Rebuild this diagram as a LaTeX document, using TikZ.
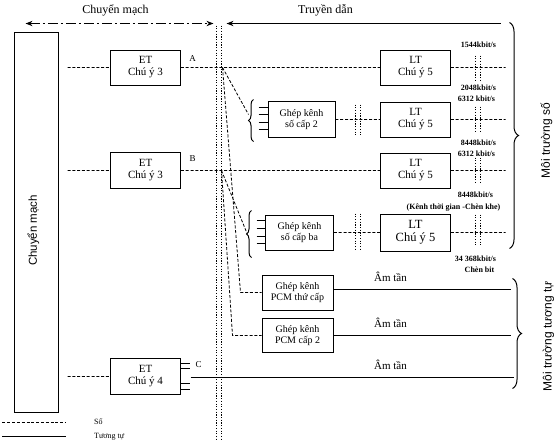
\documentclass[tikz,border=0pt]{standalone}
\usepackage{fontspec}
\setmainfont{Liberation Serif}
\setsansfont{Liberation Sans}
\usetikzlibrary{arrows.meta, decorations.pathreplacing, positioning}

\tikzset{
  box/.style={draw, line width=0.8pt, minimum width=70pt, minimum height=35pt, inner sep=1pt, align=center, font=\fontsize{11}{12}\selectfont},
  mux/.style={draw, line width=0.8pt, minimum width=68pt, minimum height=35pt, inner sep=1pt, align=center, font=\fontsize{10}{11.5}\selectfont},
  so/.style={line width=0.8pt, dash pattern=on 3pt off 1.8pt},
  tuongtu/.style={line width=0.9pt},
  cut/.style={line width=0.7pt, dash pattern=on 1.2pt off 1.5pt},
  rate/.style={font=\bfseries\fontsize{8}{9}\selectfont},
  am/.style={font=\fontsize{11}{12}\selectfont},
  brc/.style={decorate, decoration={brace, amplitude=7pt}, line width=1pt}
}

\begin{document}
\begin{tikzpicture}[x=1pt, y=-1pt, line width=0.7pt]
    \useasboundingbox (-0.5,-0.5) rectangle (558.5,444.5);

    % header arrows
    \node (hsw) at (115,10) {\fontsize{12}{13}\selectfont Chuyển mạch};
    \node (htr) at (325,10) {\fontsize{12}{13}\selectfont Truyền dẫn};
    \coordinate (sw1) at (25,23);
    \coordinate (sw2) at (213,23);
    \coordinate (tr1) at (226,23);
    \coordinate (tr2) at (500,23);
    \draw[{Stealth[length=7pt]}-{Stealth[length=7pt]}, line width=0.9pt, dash pattern=on 10pt off 3pt on 2pt off 3pt] (sw1) -- (sw2);
    \draw[{Stealth[length=7pt]}-, line width=0.9pt] (tr1) -- (tr2);

    % boundary
    \coordinate (b1t) at (216,25);
    \coordinate (b1b) at (216,440);
    \coordinate (b2t) at (221,25);
    \coordinate (b2b) at (221,440);
    \draw[cut] (b1t) -- (b1b) (b2t) -- (b2b);

    % switch
    \node[draw, line width=0.8pt, minimum width=44pt, minimum height=380pt] (sw) at (36,222) {};
    \node[rotate=90, font=\sffamily\fontsize{11.5}{12}\selectfont] (swt) at (33,230) {Chuyển mạch};

    % exchange terminals
    \node[box] (etA) at (145,67) {ET\\Chú ý 3};
    \node[box, minimum height=36pt] (etB) at (145,170) {ET\\Chú ý 3};
    \node[box, minimum height=36pt] (etC) at (145,376) {ET\\Chú ý 4};
    \node (lA) at (192,58) {\small A};
    \node (lB) at (192,158) {\small B};
    \node (lC) at (198,364) {\small C};

    % line terminals
    \node[box] (lt1) at (415,67) {LT\\Chú ý 5};
    \node[box] (lt2) at (415,119) {LT\\Chú ý 5};
    \node[box] (lt3) at (415,170) {LT\\Chú ý 5};
    \node[box, minimum height=37pt, font=\fontsize{12.5}{13.5}\selectfont] (lt4) at (415,232) {LT\\Chú ý 5};

    % multiplexers
    \node[mux, minimum width=67pt, minimum height=36pt] (mx2) at (301,119) {Ghép kênh\\số cấp 2};
    \node[mux] (mx3) at (299,232) {Ghép kênh\\số cấp ba};
    \node[mux, minimum width=71pt] (pcm1) at (297,292) {Ghép kênh\\PCM thứ cấp};
    \node[mux, minimum width=71pt, minimum height=34pt] (pcm2) at (297,335) {Ghép kênh\\PCM cấp 2};

    % inputs of the multiplexers
    \foreach \y in {107,114,122,129} \draw (258,\y) -- (mx2.west |- 0,\y);
    \foreach \y in {220,228,236,243} \draw (256,\y) -- (mx3.west |- 0,\y);
    \foreach \y in {363,368,383,389} \draw (etC.east |- 0,\y) -- ++(9,0);
    \coordinate (m2b1) at (253,141);
    \coordinate (m2b2) at (253,99);
    \coordinate (m3b1) at (251,257);
    \coordinate (m3b2) at (251,210);
    \draw[brc, decoration={amplitude=5pt}] (m2b1) -- (m2b2);
    \draw[brc, decoration={amplitude=5pt}] (m3b1) -- (m3b2);

    % digital paths
    \coordinate (inA) at (67,67);
    \coordinate (inB) at (67,170);
    \coordinate (inC) at (67,376);
    \coordinate (jA) at (222,67);
    \coordinate (jB) at (221,170);
    \coordinate (kA) at (240,292);
    \coordinate (kB) at (232,335);
    \coordinate (m2in) at (248,114);
    \coordinate (m3in) at (247,234);
    \coordinate (o1) at (505,67);
    \coordinate (o2) at (505,119);
    \coordinate (o3) at (505,170);
    \coordinate (o4) at (505,232);
    \draw[so]
    (inA) -- (etA) (etA) -- (lt1) (lt1) -- (o1)
    (inB) -- (etB) (etB) -- (lt3) (lt3) -- (o3)
    (inC) -- (etC)
    (mx2) -- (lt2) (lt2) -- (o2)
    (mx3) -- (lt4) (lt4) -- (o4)
    (jA) -- (m2in)
    (jA) -- (kA) -- (pcm1)
    (jB) -- (m3in)
    (jB) -- (kB) -- (pcm2);

    % analog paths
    \coordinate (cC) at (190,377);
    \coordinate (a1) at (510,289);
    \coordinate (a2) at (510,335);
    \coordinate (a3) at (513,377);
    \draw[tuongtu] (pcm1.east |- a1) -- (a1) (pcm2) -- (a2) (cC) -- (a3);
    \node[am] (am1) at (390,276) {Âm tần};
    \node[am] (am2) at (390,322) {Âm tần};
    \node[am] (am3) at (390,364) {Âm tần};

    % cut marks
    \foreach \x in {475,480} {
      \draw[cut] (\x,55) -- (\x,80);
      \draw[cut] (\x,106) -- (\x,132);
      \draw[cut] (\x,157) -- (\x,183);
      \draw[cut] (\x,214) -- (\x,246);
    }
    \foreach \x in {355,360} {
      \draw[cut] (\x,104) -- (\x,134);
      \draw[cut] (\x,213) -- (\x,249);
    }

    % rates
    \node[rate] (r1) at (478,44) {1544kbit/s};
    \node[rate] (r2) at (478,87) {2048kbit/s};
    \node[rate] (r3) at (476,98) {6312 kbit/s};
    \node[rate] (r4) at (478,142) {8448kbit/s};
    \node[rate] (r5) at (476,153) {6312 kbit/s};
    \node[rate] (r6) at (475,194) {8448kbit/s};
    \node[rate] (r7) at (453,207) {(Kênh thời gian -Chèn khe)};
    \node[rate] (r8) at (475,258) {34 368kbit/s};
    \node[rate] (r9) at (479,269) {Chèn bit};

    % media
    \coordinate (ms1) at (509,22);
    \coordinate (ms2) at (509,248);
    \coordinate (mt1) at (512,278);
    \coordinate (mt2) at (512,388);
    \draw[brc, decoration={amplitude=9pt}] (ms1) -- (ms2);
    \draw[brc, decoration={amplitude=9pt}] (mt1) -- (mt2);
    \node[rotate=90, font=\sffamily\fontsize{12}{13}\selectfont] (mso) at (546,140) {Môi trường số};
    \node[rotate=90, font=\sffamily\fontsize{12}{13}\selectfont] (mtt) at (548,336) {Môi trường tương tự};

    % legend
    \coordinate (g1) at (2,422);
    \coordinate (g2) at (65,422);
    \coordinate (g3) at (2,436);
    \coordinate (g4) at (65,436);
    \draw[so] (g1) -- (g2);
    \draw[tuongtu] (g3) -- (g4);
    \node[font=\fontsize{8}{9}\selectfont, anchor=west] (gso) at (90,421) {Số};
    \node[font=\fontsize{8}{9}\selectfont, anchor=west] (gtt) at (90,436) {Tương tự};
\end{tikzpicture}
\end{document}
